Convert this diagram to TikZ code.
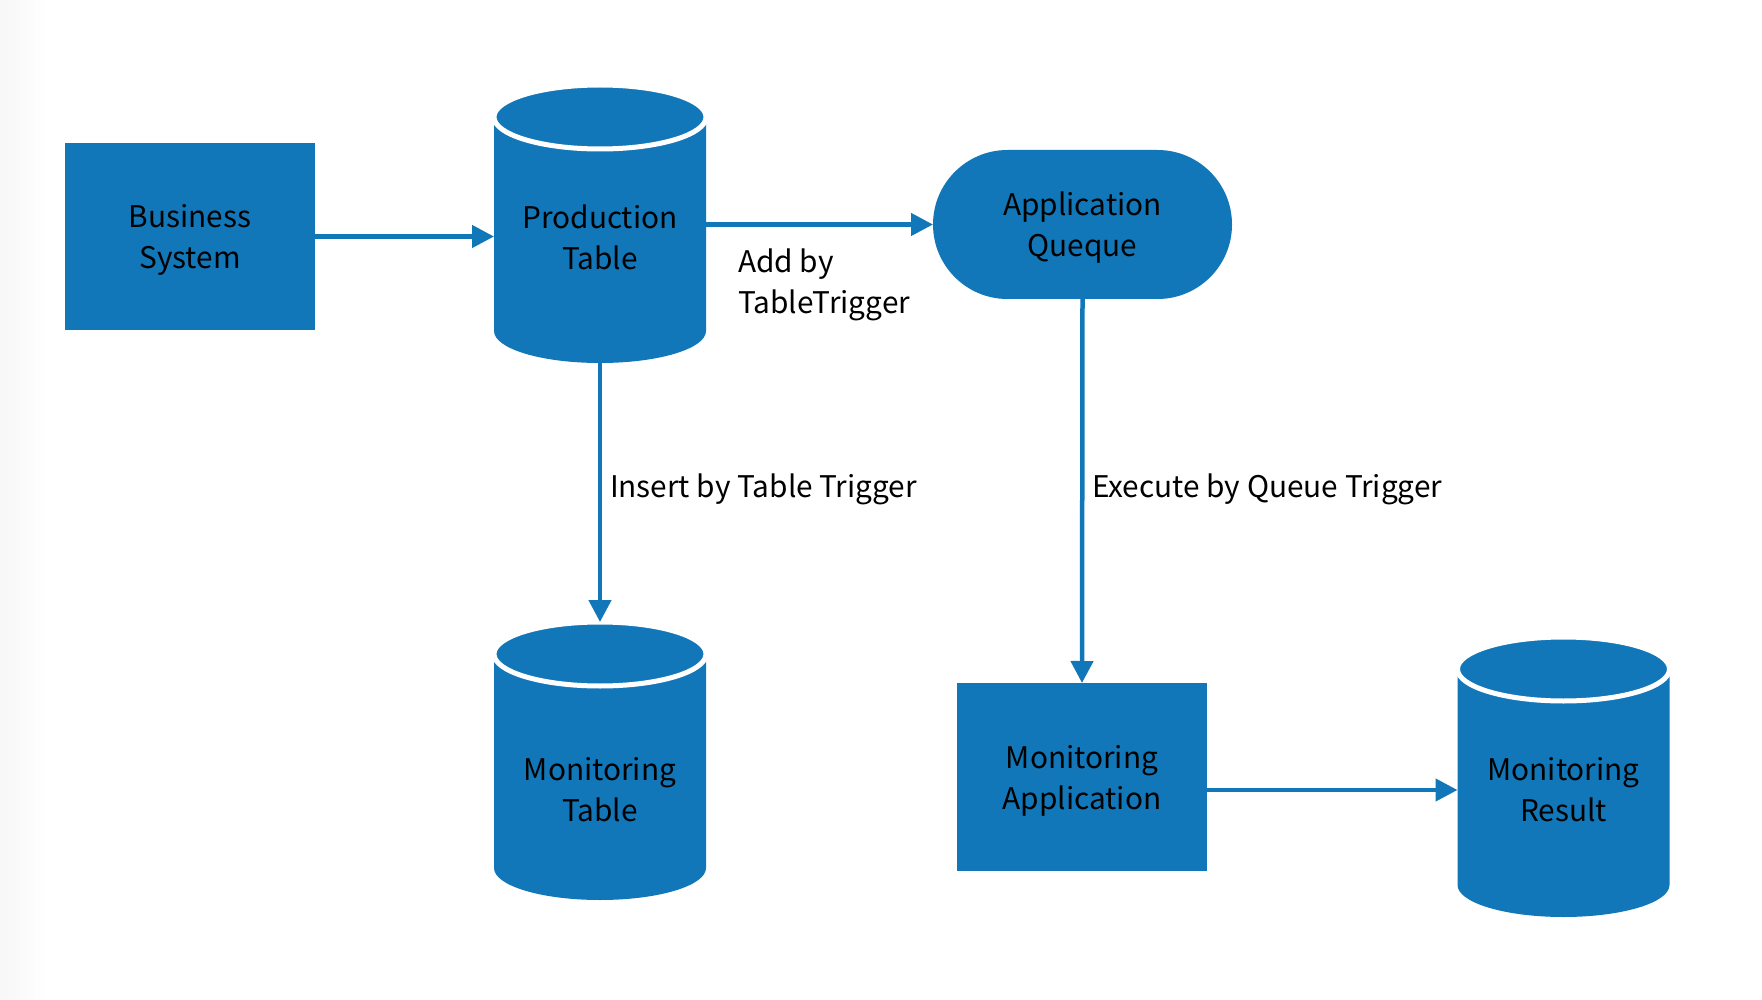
\documentclass[tikz,border=0pt]{standalone}
\usepackage{fontspec}
\setmainfont{Noto Sans CJK JP}
\usetikzlibrary{arrows.meta,shapes.misc}
\definecolor{dbblue}{RGB}{18,119,185}
\newcommand\tstrut{\rule{0pt}{36pt}}
\tikzset{
  every node/.style={inner sep=0pt, outer sep=0pt},
  txt/.style={font=\fontsize{29.8}{41}\selectfont, text=black, align=center},
  lbl/.style={font=\fontsize{29.8}{41}\selectfont, text=black, align=left, anchor=west},
  procbox/.style={fill=dbblue, rectangle, txt},
  queuebox/.style={fill=dbblue, rounded rectangle, txt},
  cylbox/.style={rectangle, minimum width=212pt},
  arr/.style={draw=dbblue, line width=4.5pt, -{Triangle[length=22pt,width=22pt]}}
}
% cylinder: name, centre x, top y (px), bottom y (px)
\newcommand\dbcyl[4]{%
  \pgfmathsetmacro\cyh{#4-#3}%
  \pgfmathsetmacro\cyc{-(#3+#4)/2}%
  \node[cylbox, minimum height=\cyh pt] (#1) at (#2,\cyc) {};
  \fill[dbblue] ([yshift=-38pt]#1.north west) -- ([yshift=32pt]#1.south west)
     arc[start angle=180, end angle=360, x radius=106pt, y radius=32pt]
     -- ([yshift=-38pt]#1.north east)
     arc[start angle=0, end angle=180, x radius=106pt, y radius=32pt] -- cycle;
  \filldraw[fill=dbblue, draw=white, line width=5pt] ([yshift=-32pt]#1.north)
     ellipse[x radius=106pt, y radius=32pt];
}
\begin{document}
\begin{tikzpicture}[x=1pt, y=1pt]
  \fill[white] (0,0) rectangle (1762,-1000);
  \useasboundingbox (0,0) rectangle (1762,-1000);
  \shade[left color=black!3, right color=white] (0,0) rectangle (50,-1000);

  % process boxes
  \node[procbox, minimum width=250pt, minimum height=187pt] (bs) at (190,-236.5)
    {\tstrut Business\\\strut System};
  \node[queuebox, minimum width=299pt, minimum height=149pt] (aq) at (1082.5,-224.5)
    {\tstrut Application\\\strut Queque};
  \node[procbox, minimum width=250pt, minimum height=188pt] (ma) at (1082,-777)
    {\tstrut Monitoring\\\strut Application};

  % databases
  \dbcyl{pt}{600}{85}{363}
  \dbcyl{mt}{600}{622}{900}
  \dbcyl{mr}{1563.5}{637}{917}
  \node[txt] (pttext) at (600,-240.5) {\strut Production\\\strut Table};
  \node[txt] (mttext) at (600,-793) {\strut Monitoring\\\strut Table};
  \node[txt] (mrtext) at (1563.5,-793) {\strut Monitoring\\\strut Result};

  % connectors
  \draw[arr] (bs.east) -- (bs.east -| pt.west);
  \draw[arr] (pt.east |- aq.west) -- (aq.west);
  \draw[arr] (pt.south) -- (mt.north);
  \draw[arr] (aq.south) -- (ma.north);
  \draw[arr] ([yshift=-13pt]ma.east) -- ([yshift=-13pt]ma.east -| mr.west);

  % connector labels
  \node[lbl] (addlbl) at (738,-285) {\strut Add by\\\strut TableTrigger};
  \node[lbl] (inslbl) at (610,-489) {\strut Insert by Table Trigger};
  \node[lbl] (exelbl) at (1092,-489) {\strut Execute by Queue Trigger};
\end{tikzpicture}
\end{document}
